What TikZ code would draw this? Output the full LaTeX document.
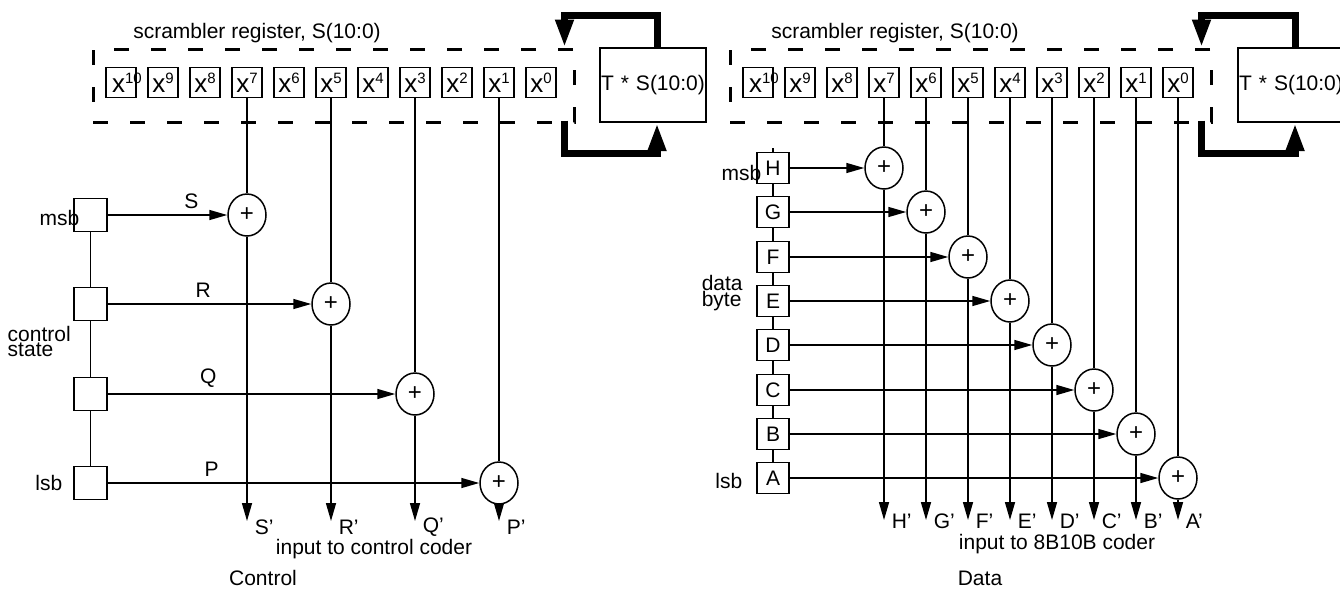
\documentclass[tikz,border=0pt]{standalone}
\usepackage{fontspec}
\setmainfont{Liberation Sans}
\usepackage{tikz}
\usetikzlibrary{positioning,arrows.meta,shapes.geometric}
\newcommand{\xpow}[1]{x\raisebox{9pt}{\fontsize{15}{15}\selectfont #1}}

\begin{document}
\begin{tikzpicture}[x=1pt, y=-1pt, >={Triangle[length=18pt,width=10pt]}, line width=1.5pt,
    txt/.style={font=\fontsize{21}{21}\selectfont, inner sep=0pt},
    cell/.style={draw, line width=1.2pt, minimum width=30pt, minimum height=30pt, inner sep=0pt, font=\fontsize{26}{26}\selectfont},
    regbox/.style={draw, dash pattern=on 15pt off 22pt, line width=3pt, minimum width=481pt, minimum height=73pt},
    tbox/.style={draw, line width=2pt, text width=104pt, align=left, inner sep=1pt, minimum height=74pt, font=\fontsize{21}{21}\selectfont},
    fb/.style={line width=7pt, -{Triangle[length=28pt,width=17pt]}},
    stbox/.style={draw, fill=white, line width=1.2pt, minimum size=33pt, inner sep=0pt},
    bytebox/.style={draw, fill=white, line width=1.2pt, minimum width=32pt, minimum height=31pt, inner sep=0pt, font=\fontsize{21}{21}\selectfont},
    xorc/.style={ellipse, draw, fill=white, minimum width=38pt, minimum height=42pt, inner sep=0pt, font=\fontsize{24}{24}\selectfont}]

    \useasboundingbox (0,0) rectangle (1340,590);

    % --- CONTROL ---
    \node[txt] at (257,33) {scrambler register, S(10:0)};
    \node[regbox] (regL) at (333.5,85.5) {};
    \node[tbox] (tbL) at (653,85) {T * S(10:0)};

    % register cells
    \node[cell] (Lx10) at (121,82.5) {\makebox[18pt][l]{\xpow{10}}};
    \node[cell] (Lx9) at (163,82.5) {\xpow{9}};
    \node[cell] (Lx8) at (205,82.5) {\xpow{8}};
    \node[cell] (Lx7) at (247,82.5) {\xpow{7}};
    \node[cell] (Lx6) at (289,82.5) {\xpow{6}};
    \node[cell] (Lx5) at (331,82.5) {\xpow{5}};
    \node[cell] (Lx4) at (373,82.5) {\xpow{4}};
    \node[cell] (Lx3) at (415,82.5) {\xpow{3}};
    \node[cell] (Lx2) at (457,82.5) {\xpow{2}};
    \node[cell] (Lx1) at (499,82.5) {\xpow{1}};
    \node[cell] (Lx0) at (541,82.5) {\xpow{0}};

    % feedback
    \draw[fb] ([xshift=4pt]tbL.north) -- ++(0,-32) -| ([xshift=-11pt]regL.north east);
    \draw[fb] ([xshift=-11pt,yshift=3pt]regL.south east) -- ++(0,33) -| ([xshift=4pt]tbL.south);

    % control state
    \node[stbox] (bS) at (90.5,215) {};
    \node[stbox] (bR) at (90.5,304) {};
    \node[stbox] (bQ) at (90.5,394) {};
    \node[stbox] (bP) at (90.5,483) {};
    \draw (bS) -- (bR) -- (bQ) -- (bP);
    \node[txt, anchor=east] at (80,218) {msb};
    \node[txt, anchor=west, align=left, font=\fontsize{21}{15}\selectfont] at (7,341) {control\\state};
    \node[txt, anchor=east] at (63,483) {lsb};

    \node[xorc] (aS) at (247,215) {+};
    \node[xorc] (aR) at (331,304) {+};
    \node[xorc] (aQ) at (415,394) {+};
    \node[xorc] (aP) at (499,483) {+};
    \coordinate (eS) at (247,521);
    \coordinate (eR) at (331,521);
    \coordinate (eQ) at (415,521);
    \coordinate (eP) at (499,521);

    \draw[->] (bS) -- (aS) node[txt, pos=0.7, above=6pt] {S};
    \draw[->] (bR) -- (aR) node[txt, pos=0.47, above=6pt] {R};
    \draw[->] (bQ) -- (aQ) node[txt, pos=0.35, above=6pt] {Q};
    \draw[->] (bP) -- (aP) node[txt, pos=0.28, above=6pt] {P};
    \draw (Lx7) -- (aS);  \draw[->] (aS) -- (eS);
    \draw (Lx5) -- (aR);  \draw[->] (aR) -- (eR);
    \draw (Lx3) -- (aQ);  \draw[->] (aQ) -- (eQ);
    \draw (Lx1) -- (aP);  \draw[->] (aP) -- (eP);
    \node[txt, anchor=west] at ([shift={(7,6)}]eS) {S’};
    \node[txt, anchor=west] at ([shift={(7,6)}]eR) {R’};
    \node[txt, anchor=west] at ([shift={(7,6)}]eQ) {Q’};
    \node[txt, anchor=west] at ([shift={(7,6)}]eP) {P’};

    \node[txt] at (374,549) {input to control coder};
    \node[txt] at (263,578) {Control};

    % --- DATA ---
    \node[txt] at (895,33) {scrambler register, S(10:0)};
    \node[regbox] (regR) at (970.5,85.5) {};
    \node[tbox] (tbR) at (1291,85) {T * S(10:0)};

    % register cells
    \node[cell] (Rx10) at (758,82.5) {\makebox[18pt][l]{\xpow{10}}};
    \node[cell] (Rx9) at (800,82.5) {\xpow{9}};
    \node[cell] (Rx8) at (842,82.5) {\xpow{8}};
    \node[cell] (Rx7) at (884,82.5) {\xpow{7}};
    \node[cell] (Rx6) at (926,82.5) {\xpow{6}};
    \node[cell] (Rx5) at (968,82.5) {\xpow{5}};
    \node[cell] (Rx4) at (1010,82.5) {\xpow{4}};
    \node[cell] (Rx3) at (1052,82.5) {\xpow{3}};
    \node[cell] (Rx2) at (1094,82.5) {\xpow{2}};
    \node[cell] (Rx1) at (1136,82.5) {\xpow{1}};
    \node[cell] (Rx0) at (1178,82.5) {\xpow{0}};

    % feedback
    \draw[fb] ([xshift=4pt]tbR.north) -- ++(0,-32) -| ([xshift=-11pt]regR.north east);
    \draw[fb] ([xshift=-11pt,yshift=3pt]regR.south east) -- ++(0,33) -| ([xshift=4pt]tbR.south);

    % data byte
    \node[bytebox] (bH) at (773,168) {H};
    \node[bytebox] (bG) at (773,212) {G};
    \node[bytebox] (bF) at (773,257) {F};
    \node[bytebox] (bE) at (773,301) {E};
    \node[bytebox] (bD) at (773,345) {D};
    \node[bytebox] (bC) at (773,390) {C};
    \node[bytebox] (bB) at (773,434) {B};
    \node[bytebox] (bA) at (773,478) {A};
    \draw (bH.north) -- ++(0,-4);
    \draw (bH) -- (bG) -- (bF) -- (bE) -- (bD) -- (bC) -- (bB) -- (bA);
    \node[txt, anchor=east] at (762,173) {msb};
    \node[txt, anchor=west, align=left, font=\fontsize{21}{15}\selectfont] at (701,293) {data\\byte};
    \node[txt, anchor=east] at (743,481) {lsb};

    \node[xorc] (aH) at (884,168) {+};
    \node[xorc] (aG) at (926,212) {+};
    \node[xorc] (aF) at (968,257) {+};
    \node[xorc] (aE) at (1010,301) {+};
    \node[xorc] (aD) at (1052,345) {+};
    \node[xorc] (aC) at (1094,390) {+};
    \node[xorc] (aB) at (1136,434) {+};
    \node[xorc] (aA) at (1178,478) {+};
    \coordinate (eH) at (884,520);
    \coordinate (eG) at (926,520);
    \coordinate (eF) at (968,520);
    \coordinate (eE) at (1010,520);
    \coordinate (eD) at (1052,520);
    \coordinate (eC) at (1094,520);
    \coordinate (eB) at (1136,520);
    \coordinate (eA) at (1178,520);

    \draw[->] (bH) -- (aH);  \draw (Rx7) -- (aH);  \draw[->] (aH) -- (eH);
    \draw[->] (bG) -- (aG);  \draw (Rx6) -- (aG);  \draw[->] (aG) -- (eG);
    \draw[->] (bF) -- (aF);  \draw (Rx5) -- (aF);  \draw[->] (aF) -- (eF);
    \draw[->] (bE) -- (aE);  \draw (Rx4) -- (aE);  \draw[->] (aE) -- (eE);
    \draw[->] (bD) -- (aD);  \draw (Rx3) -- (aD);  \draw[->] (aD) -- (eD);
    \draw[->] (bC) -- (aC);  \draw (Rx2) -- (aC);  \draw[->] (aC) -- (eC);
    \draw[->] (bB) -- (aB);  \draw (Rx1) -- (aB);  \draw[->] (aB) -- (eB);
    \draw[->] (bA) -- (aA);  \draw (Rx0) -- (aA);  \draw[->] (aA) -- (eA);
    \node[txt, anchor=west] at ([shift={(7,1)}]eH) {H’};
    \node[txt, anchor=west] at ([shift={(7,1)}]eG) {G’};
    \node[txt, anchor=west] at ([shift={(7,1)}]eF) {F’};
    \node[txt, anchor=west] at ([shift={(7,1)}]eE) {E’};
    \node[txt, anchor=west] at ([shift={(7,1)}]eD) {D’};
    \node[txt, anchor=west] at ([shift={(7,1)}]eC) {C’};
    \node[txt, anchor=west] at ([shift={(7,1)}]eB) {B’};
    \node[txt, anchor=west] at ([shift={(7,1)}]eA) {A’};

    \node[txt] at (1057,544) {input to 8B10B coder};
    \node[txt] at (980,578) {Data};

\end{tikzpicture}
\end{document}
